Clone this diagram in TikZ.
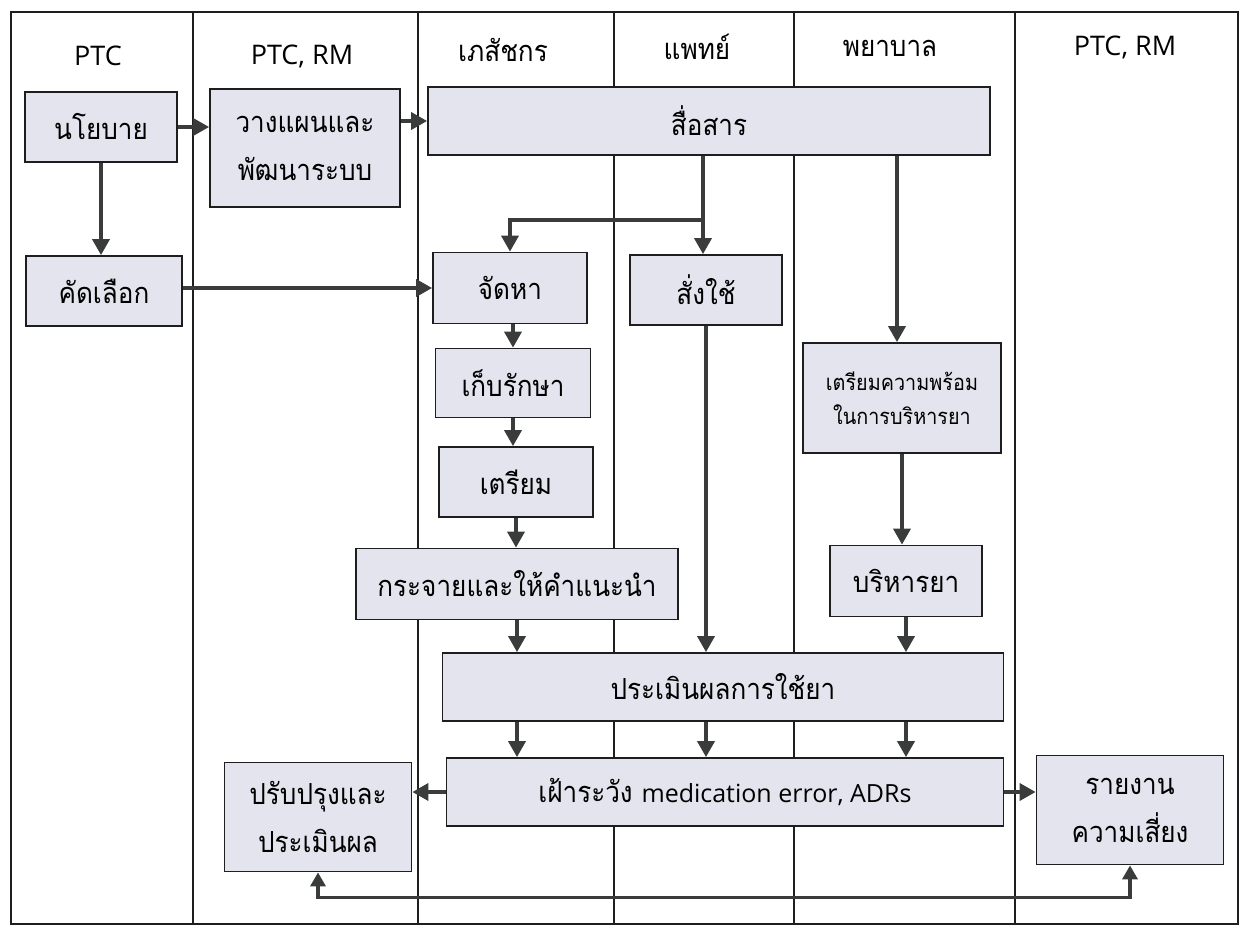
\documentclass[tikz,border=0pt]{standalone}
\usepackage{fontspec}
\newfontfamily\thai[Script=Thai]{Loma}
\newfontfamily\thaibox[Script=Thai,FakeStretch=0.9]{Loma}
\newfontfamily\latin{Open Sans}
\usetikzlibrary{arrows.meta,calc}
\definecolor{boxfill}{HTML}{E4E4EE}
\definecolor{arrc}{HTML}{3A3C3C}
\definecolor{linec}{HTML}{1E1E1E}
\begin{document}
\begin{tikzpicture}[x=1pt,y=-1pt,
  box/.style={draw=linec, line width=1.8pt, fill=boxfill, inner sep=0pt, align=center,
    font=\thaibox\fontsize{29}{48}\selectfont},
  smalltext/.style={font=\thaibox\fontsize{22}{34}\selectfont},
  hdr/.style={anchor=base, font=\thaibox\fontsize{29}{30}\selectfont},
  lhdr/.style={anchor=base, font=\latin\fontsize{27}{30}\selectfont},
  arr/.style={draw=arrc, line width=3.6pt, -{Triangle[length=16pt,width=17pt]}},
  midarr/.style={draw=arrc, line width=3.4pt, -{Triangle[length=16pt,width=17pt]}},
  dbl/.style={draw=arrc, line width=3.4pt, {Triangle[length=14pt,width=15pt]}-{Triangle[length=14pt,width=15pt]}},
  lane/.style={line width=1.5pt, draw=linec}]
\useasboundingbox (0,0) rectangle (1248,926);
\fill[white] (0,0) rectangle (1248,926);
% swimlanes
\draw[lane] (11,12) rectangle (1238,924);
\foreach \x in {193,418,614,794,1015} \draw[lane] (\x,12) -- (\x,924);
% headers
\node[lhdr] (h1) at (98,65) {PTC};
\node[lhdr] (h2) at (302,64) {PTC, RM};
\node[hdr] (h3) at (503,61) {เภสัชกร};
\node[hdr] (h4) at (697,59) {แพทย์};
\node[hdr] (h5) at (890,56) {พยาบาล};
\node[lhdr] (h6) at (1125,55) {PTC, RM};
% boxes
\node[box, minimum width=152, minimum height=70] (pol) at (101,127) {นโยบาย};
\node[box, minimum width=190, minimum height=118] (plan) at (305,148) {วางแผนและ\\พัฒนาระบบ};
\node[box, minimum width=562, minimum height=68] (comm) at (709,121) {สื่อสาร};
\node[box, minimum width=156, minimum height=70] (sel) at (104,291) {คัดเลือก};
\node[box, minimum width=154, minimum height=71] (proc) at (510,288) {จัดหา};
\node[box, minimum width=152, minimum height=70] (pres) at (706,290) {สั่งใช้};
\node[box, minimum width=155, minimum height=69] (store) at (513,383) {เก็บรักษา};
\node[box, minimum width=154, minimum height=70] (prep) at (516,482) {เตรียม};
\node[box, minimum width=322, minimum height=71] (disp) at (517,584) {กระจายและให้คำแนะนำ};
\node[box, smalltext, minimum width=198, minimum height=110] (ready) at (902,398) {เตรียมความพร้อม\\ในการบริหารยา};
\node[box, minimum width=152, minimum height=71] (admin) at (906,581) {บริหารยา};
\node[box, minimum width=561, minimum height=68] (eval) at (723,687) {ประเมินผลการใช้ยา};
\node[box, minimum width=557, minimum height=68] (mon) at (725,792) {เฝ้าระวัง {\latin\fontsize{25}{30}\selectfont medication error, ADRs}};
\node[box, minimum width=187, minimum height=109] (imp) at (318,817) {ปรับปรุงและ\\ประเมินผล};
\node[box, minimum width=187, minimum height=109] (rep) at (1130,810) {รายงาน\\ความเสี่ยง};
% connectors
\coordinate (br) at (703,220);
\coordinate (xr) at (897,0);
\draw[arr] (pol.east) -- (plan.west |- pol.east);
\draw[arr] (plan.east |- comm.west) -- (comm.west);
\draw[arr] (pol.south) -- (pol.south |- sel.north);
\draw[midarr] (sel.east |- proc.west) -- (proc.west);
\draw[arr] (comm.south -| br) -- (pres.north -| br);
\draw[arr] ([xshift=1.8pt]br) -| (proc.north);
\draw[arr] (comm.south -| xr) -- (ready.north -| xr);
\draw[arr] (store.north |- proc.south) -- (store.north);
\draw[arr] (store.south) -- (store.south |- prep.north);
\draw[arr] (prep.south) -- (prep.south |- disp.north);
\draw[arr] (disp.south) -- (disp.south |- eval.north);
\draw[arr] (pres.south) -- (pres.south |- eval.north);
\draw[arr] (ready.south) -- (ready.south |- admin.north);
\draw[arr] (admin.south) -- (admin.south |- eval.north);
\draw[arr] (eval.south -| disp.south) -- (mon.north -| disp.south);
\draw[arr] (eval.south -| pres.south) -- (mon.north -| pres.south);
\draw[arr] (eval.south -| admin.south) -- (mon.north -| admin.south);
\draw[arr] (mon.west) -- (imp.east |- mon.west);
\draw[arr] (mon.east) -- (rep.west |- mon.east);
\draw[dbl] (imp.south) |- ($(rep.south)+(0,32)$) -- (rep.south);
\end{tikzpicture}
\end{document}
